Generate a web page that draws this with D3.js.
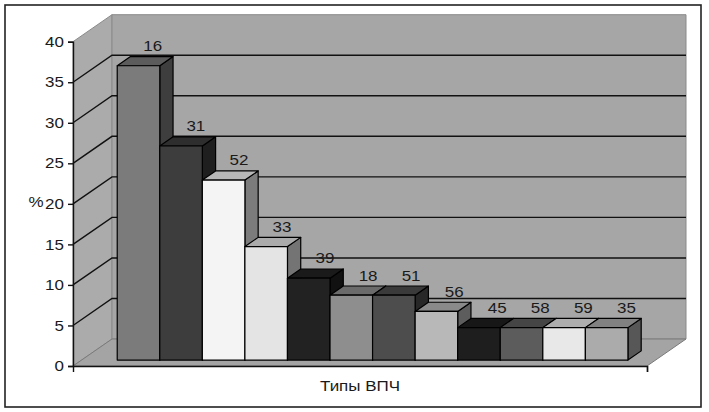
<!DOCTYPE html>
<html><head><meta charset="utf-8">
<script src="https://cdn.jsdelivr.net/npm/d3@7"></script>
<style>html,body{margin:0;padding:0;background:#fff}svg{display:block}</style>
</head><body>
<script>
// ---- data ----
const categories = ["Типы ВПЧ"];
const hpvTypes = ["16","31","52","33","39","18","51","56","45","58","59","35"];
const percents = [36.3, 26.4, 22.2, 14.0, 10.1, 8.0, 8.0, 6.0, 4.0, 4.0, 4.0, 4.0];
const barColors = ["#7b7b7b","#3d3d3d","#f4f4f4","#e4e4e4","#222222","#8e8e8e",
                   "#4d4d4d","#b8b8b8","#1e1e1e","#5c5c5c","#e8e8e8","#ababab"];
const yTicks = [0,5,10,15,20,25,30,35,40];
const yLabel = "%";

// ---- layout ----
const W = 709, H = 412;
const font = "'Liberation Sans', Arial, sans-serif";
const FS = 14.5, SX = 1.17;        // font size, horizontal stretch of text
const DX = 39, DY = -27;           // full depth offset
const f0 = 0.22, f1 = 0.56;        // bar depth (fraction of depth)
const plotL = 73, plotR = 647;

const svg = d3.select("body").append("svg").attr("width", W).attr("height", H);

svg.append("rect").attr("x",5).attr("y",5).attr("width",696).attr("height",402)
  .attr("fill","#fff").attr("stroke","#222").attr("stroke-width",1.6);

const y = d3.scaleLinear().domain([0,40]).range([366, 41.7]);
const xCat = d3.scaleBand().domain(categories).range([plotL+5, plotR+3]).paddingOuter(0.06).paddingInner(0);
const xSer = d3.scaleBand().domain(hpvTypes).range([0, xCat.bandwidth()]).padding(0);

const P = (x, yy, f) => [x + DX*f, yy + DY*f];
const poly = pts => "M" + pts.map(p => p.join(",")).join("L") + "Z";

function label(x, yy, txt, anchor) {
  svg.append("g").attr("transform", `translate(${x},${yy}) scale(${SX},1)`)
    .append("text").attr("text-anchor", anchor || "middle")
    .attr("font-family", font).attr("font-size", FS).attr("fill", "#1a1a1a").text(txt);
}

const y0 = y(0), yTop = y(40);

// side wall
svg.append("path").attr("d", poly([P(plotL,yTop,0),P(plotL,yTop,1),P(plotL,y0,1),P(plotL,y0,0)]))
  .attr("fill","#ababab").attr("stroke","#8a8a8a").attr("stroke-width",1);
// back wall
svg.append("path").attr("d", poly([P(plotL,yTop,1),P(plotR,yTop,1),P(plotR,y0,1),P(plotL,y0,1)]))
  .attr("fill","#a6a6a6").attr("stroke","#8a8a8a").attr("stroke-width",1);
// floor
svg.append("path").attr("d", poly([P(plotL,y0,0),P(plotR,y0,0),P(plotR,y0,1),P(plotL,y0,1)]))
  .attr("fill","#a4a4a4").attr("stroke","#7a7a7a").attr("stroke-width",1);

// gridlines
const grid = yTicks.filter(v => v > 0 && v < 40);
grid.forEach(v => {
  const a = P(plotL, y(v), 0), b = P(plotL, y(v), 1), c = P(plotR, y(v), 1);
  svg.append("path").attr("d", `M${a}L${b}L${c}`).attr("fill","none")
    .attr("stroke","#111").attr("stroke-width",1.4);
});

// floor front edge (category axis)
const xAxisScale = d3.scaleLinear().domain([0,1]).range([plotL, plotR]);
svg.append("g").attr("transform", `translate(0,${y0})`)
  .call(d3.axisBottom(xAxisScale).tickValues([1]).tickSize(6).tickFormat(""))
  .call(g => g.selectAll("path,line").attr("stroke","#111").attr("stroke-width",1.4));

// bars
const bars = svg.append("g");
hpvTypes.forEach((t, i) => {
  const v = percents[i];
  const xL = xCat(categories[0]) + xSer(t), xR = xL + xSer.bandwidth();
  const yT = y(v), yB = y(0);
  const c = d3.color(barColors[i]);
  const g = bars.append("g").attr("stroke","#000").attr("stroke-width",1.2).attr("stroke-linejoin","round");
  g.append("path").attr("d", poly([P(xR,yT,f0),P(xR,yT,f1),P(xR,yB,f1),P(xR,yB,f0)]))
    .attr("fill", c.darker(1.9));
  g.append("path").attr("d", poly([P(xL,yT,f0),P(xR,yT,f0),P(xR,yT,f1),P(xL,yT,f1)]))
    .attr("fill", c.darker(0.8));
  g.append("path").attr("d", poly([P(xL,yT,f0),P(xR,yT,f0),P(xR,yB,f0),P(xL,yB,f0)]))
    .attr("fill", c);
});

// value labels
hpvTypes.forEach((t, i) => {
  const v = percents[i];
  const xc = xCat(categories[0]) + xSer(t) + xSer.bandwidth()/2;
  const p = P(xc, y(v), f1);
  label(p[0] + 1 + i*0.5, p[1] - 5.5, t);
});

// y axis
svg.append("g").attr("transform", `translate(${plotL},0)`)
  .call(d3.axisLeft(y).tickValues(yTicks).tickSize(5).tickPadding(2.8))
  .call(g => g.selectAll("path,line").attr("stroke","#111").attr("stroke-width",1.4))
  .call(g => g.selectAll("text").attr("font-family",font).attr("font-size",FS).attr("fill","#1a1a1a")
    .attr("transform", `scale(${SX},1)`));

label(36, 207, yLabel);
label((plotL+plotR)/2, 391, categories[0]);
</script>
</body></html>
